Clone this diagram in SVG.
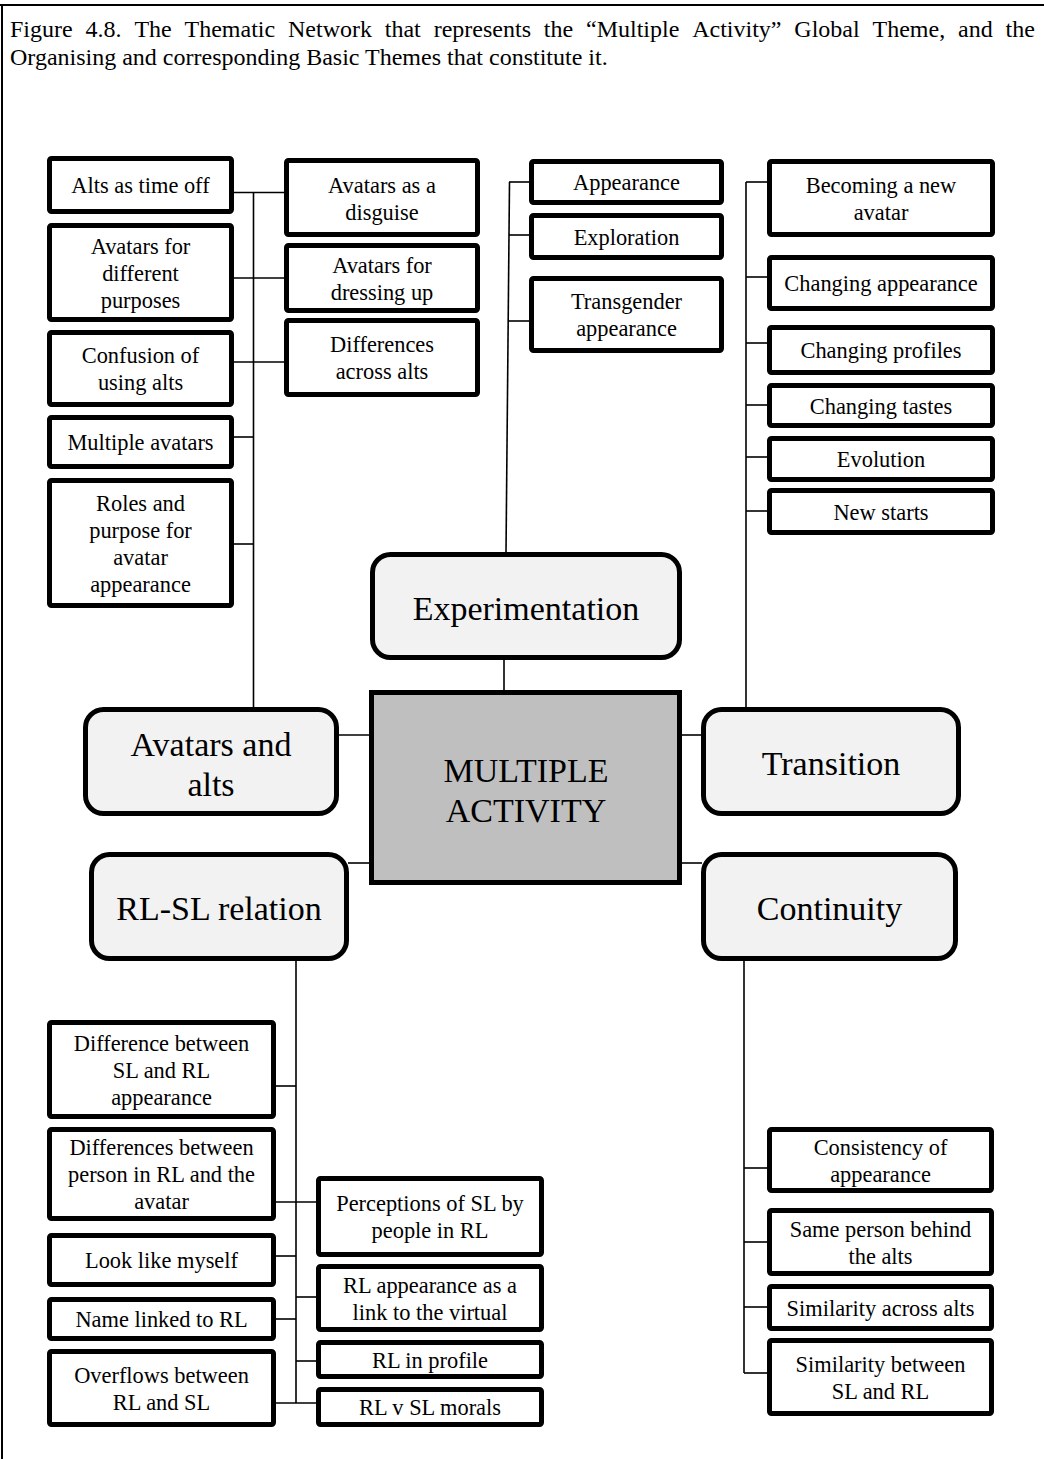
<svg xmlns="http://www.w3.org/2000/svg" width="1044" height="1459" viewBox="0 0 1044 1459">
  <style>
    text { font-family: "Liberation Serif", "Times New Roman", serif; fill: #000; }
    .title { font-size: 24px; }
    .basic rect { fill: #fff; stroke: #000; stroke-width: 5; }
    .basic text { font-size: 22.4px; text-anchor: middle; }
    .org rect { fill: #f2f2f2; stroke: #000; stroke-width: 5; }
    .org text { font-size: 34px; text-anchor: middle; }
    .global rect { fill: #bfbfbf; stroke: #000; stroke-width: 5; }
    .global text { font-size: 34px; text-anchor: middle; }
    .links line { stroke: #000; stroke-width: 1.6; fill: none; }
    .frame { stroke: #000; stroke-width: 2; fill: none; }
  </style>

  <!-- frame -->
  <path class="frame" d="M0 5 H1044 M2 5 V1459"/>

  <!-- caption (first line justified) -->
  <text class="title" y="37"><tspan x="10">Figure</tspan><tspan x="85.5">4.8.</tspan><tspan x="134.4">The</tspan><tspan x="184.5">Thematic</tspan><tspan x="288">Network</tspan><tspan x="384.8">that</tspan><tspan x="433.7">represents</tspan><tspan x="543.8">the</tspan><tspan x="586">“Multiple</tspan><tspan x="692.2">Activity”</tspan><tspan x="794.3">Global</tspan><tspan x="872.5">Theme,</tspan><tspan x="958">and</tspan><tspan x="1005.5">the</tspan></text>
  <text class="title" x="10" y="65">Organising and corresponding Basic Themes that constitute it.</text>

  <!-- connectors -->
  <g id="connectors" class="links">
    <!-- Avatars and alts branch -->
    <line x1="253.5" y1="192" x2="253.5" y2="708"/>
    <line x1="234" y1="192.5" x2="284" y2="192.5"/>
    <line x1="234" y1="278" x2="284" y2="278"/>
    <line x1="234" y1="362" x2="284" y2="362"/>
    <line x1="234" y1="437" x2="253.5" y2="437"/>
    <line x1="234" y1="544" x2="253.5" y2="544"/>
    <!-- Experimentation branch -->
    <line x1="509.5" y1="182" x2="506" y2="553"/>
    <line x1="509" y1="182" x2="529" y2="182"/>
    <line x1="509" y1="235" x2="529" y2="235"/>
    <line x1="508" y1="321" x2="529" y2="321"/>
    <!-- Transition branch -->
    <line x1="746" y1="182" x2="746" y2="708"/>
    <line x1="746" y1="182" x2="767" y2="182"/>
    <line x1="746" y1="277" x2="767" y2="277"/>
    <line x1="746" y1="343" x2="767" y2="343"/>
    <line x1="746" y1="405" x2="767" y2="405"/>
    <line x1="746" y1="457" x2="767" y2="457"/>
    <line x1="746" y1="511" x2="767" y2="511"/>
    <!-- organising themes to global theme -->
    <line x1="504" y1="659" x2="504" y2="691"/>
    <line x1="338" y1="735" x2="371" y2="735"/>
    <line x1="681" y1="735" x2="702" y2="735"/>
    <line x1="348" y1="863" x2="371" y2="863"/>
    <line x1="681" y1="863" x2="702" y2="863"/>
    <!-- RL-SL relation branch -->
    <line x1="296" y1="960" x2="296" y2="1403"/>
    <line x1="276" y1="1086" x2="296" y2="1086"/>
    <line x1="276" y1="1202" x2="316" y2="1202"/>
    <line x1="276" y1="1256" x2="296" y2="1256"/>
    <line x1="276" y1="1319" x2="296" y2="1319"/>
    <line x1="276" y1="1403" x2="316" y2="1403"/>
    <line x1="296" y1="1297" x2="316" y2="1297"/>
    <line x1="296" y1="1361" x2="316" y2="1361"/>
    <!-- Continuity branch -->
    <line x1="744" y1="960" x2="744" y2="1373"/>
    <line x1="744" y1="1168" x2="767" y2="1168"/>
    <line x1="744" y1="1242" x2="767" y2="1242"/>
    <line x1="744" y1="1307" x2="767" y2="1307"/>
    <line x1="744" y1="1373" x2="767" y2="1373"/>
  </g>

  <!-- global theme -->
  <g id="multiple-activity" class="global">
    <rect x="371.5" y="692.5" width="308" height="190"/>
    <text x="526" y="782">MULTIPLE</text>
    <text x="526" y="822">ACTIVITY</text>
  </g>

  <!-- organising themes -->
  <g id="experimentation" class="org">
    <rect x="372.5" y="554.5" width="307" height="103" rx="18"/>
    <text x="526" y="620">Experimentation</text>
  </g>
  <g id="avatars-and-alts" class="org">
    <rect x="85.5" y="709.5" width="251" height="104" rx="18"/>
    <text x="211" y="756">Avatars and</text>
    <text x="211" y="796">alts</text>
  </g>
  <g id="transition" class="org">
    <rect x="703.5" y="709.5" width="255" height="104" rx="18"/>
    <text x="831" y="775">Transition</text>
  </g>
  <g id="rl-sl-relation" class="org">
    <rect x="91.5" y="854.5" width="255" height="104" rx="18"/>
    <text x="219" y="920">RL-SL relation</text>
  </g>
  <g id="continuity" class="org">
    <rect x="703.5" y="854.5" width="252" height="104" rx="18"/>
    <text x="829.5" y="920">Continuity</text>
  </g>

  <!-- basic themes: Avatars and alts -->
  <g id="alts-as-time-off" class="basic">
    <rect x="49.5" y="158.5" width="182" height="53" rx="2"/>
    <text x="140.5" y="193">Alts as time off</text>
  </g>
  <g id="avatars-for-different-purposes" class="basic">
    <rect x="49.5" y="225.5" width="182" height="94" rx="2"/>
    <text x="140.5" y="253.5">Avatars for</text>
    <text x="140.5" y="280.5">different</text>
    <text x="140.5" y="307.5">purposes</text>
  </g>
  <g id="confusion-of-using-alts" class="basic">
    <rect x="49.5" y="332.5" width="182" height="72" rx="2"/>
    <text x="140.5" y="363">Confusion of</text>
    <text x="140.5" y="390">using alts</text>
  </g>
  <g id="multiple-avatars" class="basic">
    <rect x="49.5" y="417.5" width="182" height="49" rx="2"/>
    <text x="140.5" y="450">Multiple avatars</text>
  </g>
  <g id="roles-and-purpose" class="basic">
    <rect x="49.5" y="480.5" width="182" height="125" rx="2"/>
    <text x="140.5" y="511">Roles and</text>
    <text x="140.5" y="538">purpose for</text>
    <text x="140.5" y="565">avatar</text>
    <text x="140.5" y="592">appearance</text>
  </g>
  <g id="avatars-as-a-disguise" class="basic">
    <rect x="286.5" y="160.5" width="191" height="74" rx="2"/>
    <text x="382" y="192.5">Avatars as a</text>
    <text x="382" y="219.5">disguise</text>
  </g>
  <g id="avatars-for-dressing-up" class="basic">
    <rect x="286.5" y="245.5" width="191" height="65" rx="2"/>
    <text x="382" y="272.5">Avatars for</text>
    <text x="382" y="299.5">dressing up</text>
  </g>
  <g id="differences-across-alts" class="basic">
    <rect x="286.5" y="320.5" width="191" height="74" rx="2"/>
    <text x="382" y="352">Differences</text>
    <text x="382" y="379">across alts</text>
  </g>

  <!-- basic themes: Experimentation -->
  <g id="appearance" class="basic">
    <rect x="531.5" y="161.5" width="190" height="41" rx="2"/>
    <text x="626.5" y="190">Appearance</text>
  </g>
  <g id="exploration" class="basic">
    <rect x="531.5" y="215.5" width="190" height="42" rx="2"/>
    <text x="626.5" y="244.5">Exploration</text>
  </g>
  <g id="transgender-appearance" class="basic">
    <rect x="531.5" y="278.5" width="190" height="72" rx="2"/>
    <text x="626.5" y="309">Transgender</text>
    <text x="626.5" y="336">appearance</text>
  </g>

  <!-- basic themes: Transition -->
  <g id="becoming-a-new-avatar" class="basic">
    <rect x="769.5" y="161.5" width="223" height="73" rx="2"/>
    <text x="881" y="193">Becoming a new</text>
    <text x="881" y="220">avatar</text>
  </g>
  <g id="changing-appearance" class="basic">
    <rect x="769.5" y="257.5" width="223" height="51" rx="2"/>
    <text x="881" y="291">Changing appearance</text>
  </g>
  <g id="changing-profiles" class="basic">
    <rect x="769.5" y="327.5" width="223" height="45" rx="2"/>
    <text x="881" y="358">Changing profiles</text>
  </g>
  <g id="changing-tastes" class="basic">
    <rect x="769.5" y="385.5" width="223" height="40" rx="2"/>
    <text x="881" y="413.5">Changing tastes</text>
  </g>
  <g id="evolution" class="basic">
    <rect x="769.5" y="438.5" width="223" height="41" rx="2"/>
    <text x="881" y="467">Evolution</text>
  </g>
  <g id="new-starts" class="basic">
    <rect x="769.5" y="490.5" width="223" height="42" rx="2"/>
    <text x="881" y="519.5">New starts</text>
  </g>

  <!-- basic themes: RL-SL relation -->
  <g id="difference-sl-rl-appearance" class="basic">
    <rect x="49.5" y="1022.5" width="224" height="94" rx="2"/>
    <text x="161.5" y="1051">Difference between</text>
    <text x="161.5" y="1078">SL and RL</text>
    <text x="161.5" y="1105">appearance</text>
  </g>
  <g id="differences-person-avatar" class="basic">
    <rect x="49.5" y="1129.5" width="224" height="89" rx="2"/>
    <text x="161.5" y="1155">Differences between</text>
    <text x="161.5" y="1182">person in RL and the</text>
    <text x="161.5" y="1209">avatar</text>
  </g>
  <g id="look-like-myself" class="basic">
    <rect x="49.5" y="1235.5" width="224" height="49" rx="2"/>
    <text x="161.5" y="1268">Look like myself</text>
  </g>
  <g id="name-linked-to-rl" class="basic">
    <rect x="49.5" y="1299.5" width="224" height="39" rx="2"/>
    <text x="161.5" y="1327">Name linked to RL</text>
  </g>
  <g id="overflows-rl-sl" class="basic">
    <rect x="49.5" y="1351.5" width="224" height="73" rx="2"/>
    <text x="161.5" y="1382.5">Overflows between</text>
    <text x="161.5" y="1409.5">RL and SL</text>
  </g>
  <g id="perceptions-of-sl" class="basic">
    <rect x="318.5" y="1178.5" width="223" height="76" rx="2"/>
    <text x="430" y="1211">Perceptions of SL by</text>
    <text x="430" y="1238">people in RL</text>
  </g>
  <g id="rl-appearance-link" class="basic">
    <rect x="318.5" y="1266.5" width="223" height="63" rx="2"/>
    <text x="430" y="1292.5">RL appearance as a</text>
    <text x="430" y="1319.5">link to the virtual</text>
  </g>
  <g id="rl-in-profile" class="basic">
    <rect x="318.5" y="1342.5" width="223" height="34" rx="2"/>
    <text x="430" y="1367.5">RL in profile</text>
  </g>
  <g id="rl-v-sl-morals" class="basic">
    <rect x="318.5" y="1389.5" width="223" height="35" rx="2"/>
    <text x="430" y="1415">RL v SL morals</text>
  </g>

  <!-- basic themes: Continuity -->
  <g id="consistency-of-appearance" class="basic">
    <rect x="769.5" y="1129.5" width="222" height="61" rx="2"/>
    <text x="880.5" y="1154.5">Consistency of</text>
    <text x="880.5" y="1181.5">appearance</text>
  </g>
  <g id="same-person-behind-alts" class="basic">
    <rect x="769.5" y="1210.5" width="222" height="63" rx="2"/>
    <text x="880.5" y="1236.5">Same person behind</text>
    <text x="880.5" y="1263.5">the alts</text>
  </g>
  <g id="similarity-across-alts" class="basic">
    <rect x="769.5" y="1286.5" width="222" height="42" rx="2"/>
    <text x="880.5" y="1315.5">Similarity across alts</text>
  </g>
  <g id="similarity-sl-rl" class="basic">
    <rect x="769.5" y="1340.5" width="222" height="73" rx="2"/>
    <text x="880.5" y="1371.5">Similarity between</text>
    <text x="880.5" y="1398.5">SL and RL</text>
  </g>
</svg>
